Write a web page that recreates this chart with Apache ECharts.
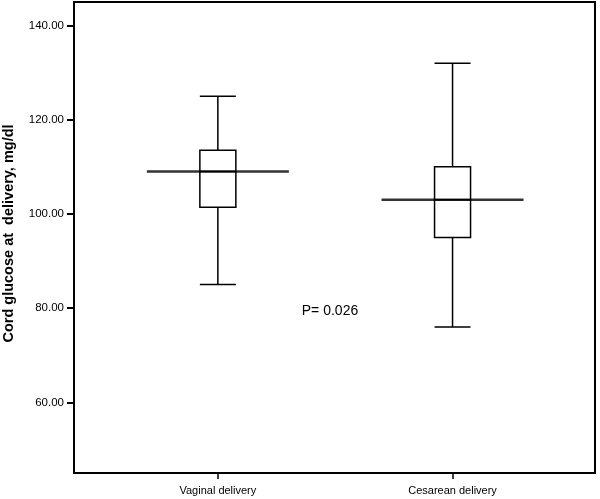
<!DOCTYPE html>
<html>
<head>
<meta charset="utf-8">
<script src="https://cdn.jsdelivr.net/npm/echarts@6/dist/echarts.min.js"></script>
<style>
html,body{margin:0;padding:0;background:#fff;}
#chart{width:600px;height:499px;}
</style>
</head>
<body>
<div id="chart"></div>
<script>
// Data
const categories = ['Vaginal delivery', 'Cesarean delivery'];
const categoryPos = [1, 2];
// [lower whisker, Q1, median, Q3, upper whisker]
const vaginalBox = [85, 101.4, 109, 113.5, 125];
const cesareanBox = [76, 95, 103, 110, 132];
const yTicks = [60, 80, 100, 120, 140];
const pText = 'P= 0.026';

const boxes = [vaginalBox, cesareanBox];
const boxData = boxes.map((b, i) => [categoryPos[i]].concat(b));
const medianData = boxes.map((b, i) => [categoryPos[i], b[2]]);

const font = 'Arial, "Liberation Sans", Helvetica, sans-serif';
const chart = echarts.init(document.getElementById('chart'));
chart.setOption({
  animation: false,
  backgroundColor: '#fff',
  grid: {
    left: 74, right: 5, top: 2, bottom: 26,
    containLabel: false,
    outerBoundsMode: 'none',
    show: true, borderColor: '#000', borderWidth: 2, backgroundColor: 'transparent'
  },
  xAxis: {
    type: 'value',
    min: 0.387, max: 2.607,
    splitLine: { show: false },
    axisLine: { show: true, lineStyle: { color: '#000', width: 2 } },
    axisTick: { show: true, customValues: categoryPos, length: 6, lineStyle: { color: '#000', width: 1.5 } },
    axisLabel: {
      customValues: categoryPos,
      formatter: v => categories[categoryPos.indexOf(v)] || '',
      color: '#000', fontSize: 11, fontFamily: font, margin: 12
    }
  },
  yAxis: {
    type: 'value',
    min: 45, max: 145,
    name: 'Cord glucose at  delivery, mg/dl',
    nameLocation: 'middle',
    nameGap: 58,
    nameTextStyle: { color: '#000', fontSize: 14.5, fontWeight: 'bold', fontFamily: font, padding: [0, 0, 0, 8] },
    splitLine: { show: false },
    axisLine: { show: true, lineStyle: { color: '#000', width: 2 } },
    axisTick: { show: true, customValues: yTicks, length: 7, lineStyle: { color: '#000', width: 2 } },
    axisLabel: {
      customValues: yTicks,
      formatter: v => v.toFixed(2),
      color: '#000', fontSize: 11.5, fontFamily: font, margin: 10
    }
  },
  series: [
    {
      type: 'boxplot',
      data: boxData,
      boxWidth: [36, 36],
      itemStyle: { color: '#fff', borderColor: '#000', borderWidth: 1.5 },
      emphasis: { disabled: true },
      z: 2
    },
    {
      type: 'scatter',
      data: medianData,
      symbol: 'rect',
      symbolSize: [142, 2.5],
      itemStyle: { color: '#000' },
      emphasis: { disabled: true },
      silent: true,
      z: 3
    }
  ],
  graphic: [{
    type: 'text',
    x: 330, y: 311,
    style: { text: pText, fill: '#000', font: '14px ' + font, textAlign: 'center', textVerticalAlign: 'middle' }
  }]
});
</script>
</body>
</html>
